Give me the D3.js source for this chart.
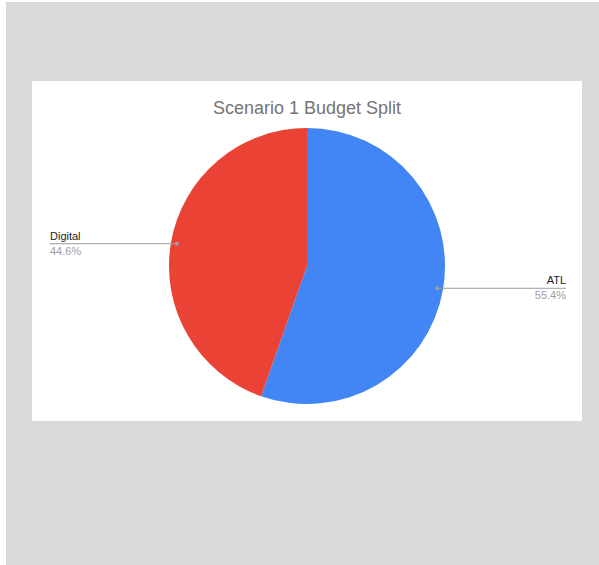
<!DOCTYPE html>
<html>
<head>
<meta charset="utf-8">
<script src="https://cdn.jsdelivr.net/npm/d3@7"></script>
<style>
  html, body { margin: 0; padding: 0; background: #ffffff; }
  svg { display: block; font-family: "Liberation Sans", Arial, sans-serif; }
</style>
</head>
<body>
<svg id="chart" width="599" height="565"></svg>
<script>
// Budget split data
const categories = ["ATL", "Digital"];
const shares = [55.4, 44.6];
const colors = ["#4285f4", "#ea4335"];
const chartTitle = "Scenario 1 Budget Split";

const svg = d3.select("#chart");

// page background and white chart card
svg.append("rect").attr("x", 6).attr("y", 2).attr("width", 593).attr("height", 563).attr("fill", "#d9d9d9");
svg.append("rect").attr("x", 32).attr("y", 81).attr("width", 550).attr("height", 340).attr("fill", "#ffffff");

svg.append("text")
  .attr("x", 307).attr("y", 114)
  .attr("text-anchor", "middle")
  .attr("font-size", 18)
  .attr("fill", "#757575")
  .text(chartTitle);

const cx = 307, cy = 266, r = 138;
const data = categories.map((c, i) => ({ name: c, value: shares[i], color: colors[i] }));

const pie = d3.pie().sort(null).value(d => d.value);
const arcs = pie(data);
const arc = d3.arc().innerRadius(0).outerRadius(r);

const g = svg.append("g").attr("transform", `translate(${cx},${cy})`);
g.selectAll("path.slice")
  .data(arcs)
  .join("path")
  .attr("class", "slice")
  .attr("d", arc)
  .attr("fill", d => d.data.color);

// leader lines and labels
const dotR = r - 6;
const leftEdge = 50 - cx, rightEdge = 566 - cx;
arcs.forEach(a => {
  const mid = (a.startAngle + a.endAngle) / 2;
  const px = dotR * Math.sin(mid);
  const py = -dotR * Math.cos(mid);
  const right = px > 0;
  const endX = right ? rightEdge : leftEdge;
  g.append("line")
    .attr("x1", px).attr("y1", py)
    .attr("x2", endX).attr("y2", py)
    .attr("stroke", "#9e9e9e").attr("stroke-width", 1);
  g.append("circle")
    .attr("cx", px).attr("cy", py).attr("r", 2)
    .attr("fill", "#9e9e9e");
  g.append("text")
    .attr("x", endX).attr("y", py - 4)
    .attr("text-anchor", right ? "end" : "start")
    .attr("font-size", 11)
    .attr("fill", "#222222")
    .text(a.data.name);
  g.append("text")
    .attr("x", endX).attr("y", py + 11)
    .attr("text-anchor", right ? "end" : "start")
    .attr("font-size", 11)
    .attr("fill", "#9e9e9e")
    .text(a.data.value.toFixed(1) + "%");
});
</script>
</body>
</html>
